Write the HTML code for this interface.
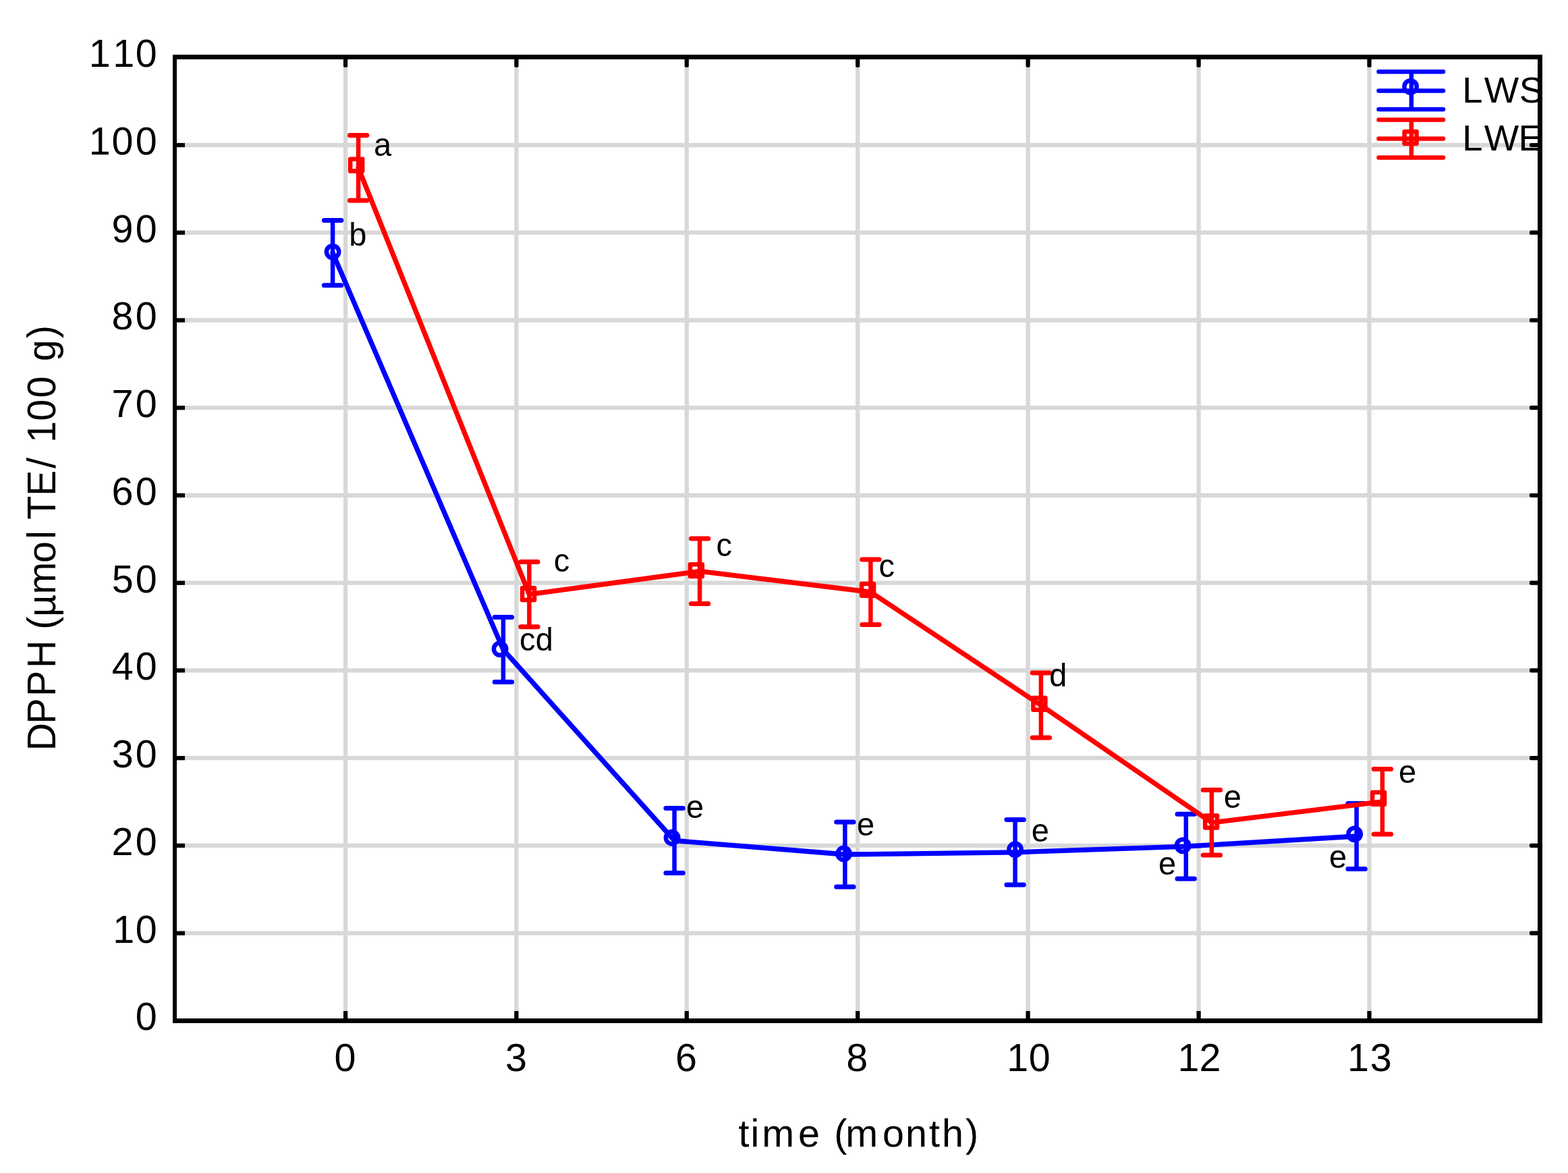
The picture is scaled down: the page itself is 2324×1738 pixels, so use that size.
<!DOCTYPE html>
<html lang="en"><head><meta charset="utf-8"><title>DPPH chart</title>
<style>html,body{margin:0;padding:0;background:#fff}body{width:2324px;height:1738px;overflow:hidden}svg{display:block}text{font-family:"Liberation Sans",sans-serif;fill:#000;white-space:pre}</style></head><body>
<svg width="2324" height="1738" viewBox="0 0 2324 1738" role="img" aria-label="DPPH versus storage time for LWS and LWE">
<rect width="2324" height="1738" fill="#fff"/>
<defs><clipPath id="pc"><rect x="262" y="87.9" width="2017" height="1421.1"/></clipPath></defs>
<g stroke="#d8d8d8" stroke-width="6.3" fill="none">
<line x1="259.4" x2="2282.6" y1="1382.7" y2="1382.7"/>
<line x1="259.4" x2="2282.6" y1="1252.9" y2="1252.9"/>
<line x1="259.4" x2="2282.6" y1="1123.2" y2="1123.2"/>
<line x1="259.4" x2="2282.6" y1="993.4" y2="993.4"/>
<line x1="259.4" x2="2282.6" y1="863.7" y2="863.7"/>
<line x1="259.4" x2="2282.6" y1="734.0" y2="734.0"/>
<line x1="259.4" x2="2282.6" y1="604.2" y2="604.2"/>
<line x1="259.4" x2="2282.6" y1="474.5" y2="474.5"/>
<line x1="259.4" x2="2282.6" y1="344.7" y2="344.7"/>
<line x1="259.4" x2="2282.6" y1="215.0" y2="215.0"/>
<line y1="84.8" y2="1512.7" x1="512.1" x2="512.1"/>
<line y1="84.8" y2="1512.7" x1="765.4" x2="765.4"/>
<line y1="84.8" y2="1512.7" x1="1017.8" x2="1017.8"/>
<line y1="84.8" y2="1512.7" x1="1271.2" x2="1271.2"/>
<line y1="84.8" y2="1512.7" x1="1523.6" x2="1523.6"/>
<line y1="84.8" y2="1512.7" x1="1776.6" x2="1776.6"/>
<line y1="84.8" y2="1512.7" x1="2029.5" x2="2029.5"/>
</g>
<g stroke="#0000ff" stroke-width="6.5" fill="none" stroke-linecap="round" stroke-linejoin="round">
<polyline stroke-width="7.3" points="493.1,374.7 745.9,962.6 999.6,1245.5 1252.4,1266.0 1504.6,1262.8 1757.8,1254.1 2010.6,1239.0"/>
<path d="M493.1 326.6V422.8"/><path stroke-width="7.0" d="M480.4 326.6h25.4M480.4 422.8h25.4"/>
<circle cx="493.1" cy="373.1" r="9.2"/>
<path d="M745.9 914.6V1010.6"/><path stroke-width="7.0" d="M733.2 914.6h25.4M733.2 1010.6h25.4"/>
<circle cx="741.1" cy="961.6" r="9.2"/>
<path d="M999.6 1197.5V1293.4"/><path stroke-width="7.0" d="M986.9 1197.5h25.4M986.9 1293.4h25.4"/>
<circle cx="996.1" cy="1241.2" r="9.2"/>
<path d="M1252.4 1218.1V1313.9"/><path stroke-width="7.0" d="M1239.7 1218.1h25.4M1239.7 1313.9h25.4"/>
<circle cx="1250.6" cy="1265.0" r="9.2"/>
<path d="M1504.6 1214.6V1310.9"/><path stroke-width="7.0" d="M1491.9 1214.6h25.4M1491.9 1310.9h25.4"/>
<circle cx="1504.6" cy="1258.8" r="9.2"/>
<path d="M1757.8 1206.2V1301.9"/><path stroke-width="7.0" d="M1745.0 1206.2h25.4M1745.0 1301.9h25.4"/>
<circle cx="1753.1" cy="1252.9" r="9.2"/>
<path d="M2010.6 1190.4V1287.5"/><path stroke-width="7.0" d="M1997.9 1190.4h25.4M1997.9 1287.5h25.4"/>
<circle cx="2007.6" cy="1235.9" r="9.2"/>
</g>
<g stroke="#ff0000" stroke-width="6.5" fill="none" stroke-linecap="round" stroke-linejoin="round">
<polyline stroke-width="7.3" points="531.1,248.6 784.4,880.6 1037.1,846.4 1290.4,877.2 1542.9,1045.0 1795.9,1218.8 2048.9,1187.8"/>
<path d="M531.1 200.4V296.9"/><path stroke-width="7.0" d="M518.4 200.4h25.4M518.4 296.9h25.4"/>
<rect x="519.2" y="235.8" width="18" height="17.8"/>
<path d="M784.4 832.4V928.8"/><path stroke-width="7.0" d="M771.7 832.4h25.4M771.7 928.8h25.4"/>
<rect x="774.1" y="871.2" width="18" height="17.8"/>
<path d="M1037.1 798.1V894.6"/><path stroke-width="7.0" d="M1024.4 798.1h25.4M1024.4 894.6h25.4"/>
<rect x="1022.9" y="836.2" width="18" height="17.8"/>
<path d="M1290.4 829.1V925.4"/><path stroke-width="7.0" d="M1277.7 829.1h25.4M1277.7 925.4h25.4"/>
<rect x="1277.1" y="864.9" width="18" height="17.8"/>
<path d="M1542.9 996.9V1093.1"/><path stroke-width="7.0" d="M1530.2 996.9h25.4M1530.2 1093.1h25.4"/>
<rect x="1531.4" y="1034.0" width="18" height="17.8"/>
<path d="M1795.9 1170.6V1266.9"/><path stroke-width="7.0" d="M1783.2 1170.6h25.4M1783.2 1266.9h25.4"/>
<rect x="1786.1" y="1208.6" width="18" height="17.8"/>
<path d="M2048.9 1139.6V1235.9"/><path stroke-width="7.0" d="M2036.2 1139.6h25.4M2036.2 1235.9h25.4"/>
<rect x="2034.1" y="1174.0" width="18" height="17.8"/>
</g>
<g clip-path="url(#pc)">
<g stroke="#0000ff" stroke-width="6.5" fill="none" stroke-linecap="round"><path d="M2043.5 106.25H2139M2043.5 134.4H2139M2043.5 162.1H2139M2091.9 106.25V162.1"/><circle cx="2090.6" cy="128.4" r="9.2"/></g>
<g stroke="#ff0000" stroke-width="6.5" fill="none" stroke-linecap="round"><path d="M2043.5 177.5H2139M2043.5 205.4H2139M2043.5 233.4H2139M2091.9 177.5V233.4"/><rect x="2081.6" y="195.0" width="18" height="17.8" stroke-linejoin="round"/></g>
<text x="2167.3 2199.75 2251.8" y="152.1" font-size="54.5">LWS</text>
<text x="2167.3 2199.75 2250.5" y="223.1" font-size="54.5">LWE</text>
</g>
<g fill="#000">
<rect x="256.0" y="81.0" width="2030.0" height="6.9"/>
<rect x="256.0" y="1509.0" width="2030.0" height="6.9"/>
<rect x="256.0" y="81.0" width="6.0" height="1434.9"/>
<rect x="2279.0" y="81.0" width="7.0" height="1434.9"/>
<rect x="261.0" y="1379.6" width="13.0" height="6.2"/>
<rect x="2266.9" y="1379.6" width="15.1" height="6.2" rx="2.4"/>
<rect x="261.0" y="1249.8" width="13.0" height="6.2"/>
<rect x="2266.9" y="1249.8" width="15.1" height="6.2" rx="2.4"/>
<rect x="261.0" y="1120.1" width="13.0" height="6.2"/>
<rect x="2266.9" y="1120.1" width="15.1" height="6.2" rx="2.4"/>
<rect x="261.0" y="990.3" width="13.0" height="6.2"/>
<rect x="2266.9" y="990.3" width="15.1" height="6.2" rx="2.4"/>
<rect x="261.0" y="860.6" width="13.0" height="6.2"/>
<rect x="2266.9" y="860.6" width="15.1" height="6.2" rx="2.4"/>
<rect x="261.0" y="730.9" width="13.0" height="6.2"/>
<rect x="2266.9" y="730.9" width="15.1" height="6.2" rx="2.4"/>
<rect x="261.0" y="601.1" width="13.0" height="6.2"/>
<rect x="2266.9" y="601.1" width="15.1" height="6.2" rx="2.4"/>
<rect x="261.0" y="471.4" width="13.0" height="6.2"/>
<rect x="2266.9" y="471.4" width="15.1" height="6.2" rx="2.4"/>
<rect x="261.0" y="341.6" width="13.0" height="6.2"/>
<rect x="2266.9" y="341.6" width="15.1" height="6.2" rx="2.4"/>
<rect x="261.0" y="211.9" width="13.0" height="6.2"/>
<rect x="2266.9" y="211.9" width="15.1" height="6.2" rx="2.4"/>
<rect x="509.0" y="84.9" width="6.2" height="14.9" rx="2.0"/>
<rect x="509.0" y="1498.0" width="6.2" height="12.0"/>
<rect x="762.3" y="84.9" width="6.2" height="14.9" rx="2.0"/>
<rect x="762.3" y="1498.0" width="6.2" height="12.0"/>
<rect x="1014.7" y="84.9" width="6.2" height="14.9" rx="2.0"/>
<rect x="1014.7" y="1498.0" width="6.2" height="12.0"/>
<rect x="1268.1" y="84.9" width="6.2" height="14.9" rx="2.0"/>
<rect x="1268.1" y="1498.0" width="6.2" height="12.0"/>
<rect x="1520.5" y="84.9" width="6.2" height="14.9" rx="2.0"/>
<rect x="1520.5" y="1498.0" width="6.2" height="12.0"/>
<rect x="1773.5" y="84.9" width="6.2" height="14.9" rx="2.0"/>
<rect x="1773.5" y="1498.0" width="6.2" height="12.0"/>
<rect x="2026.4" y="84.9" width="6.2" height="14.9" rx="2.0"/>
<rect x="2026.4" y="1498.0" width="6.2" height="12.0"/>
</g>
<text x="200.7" y="1526.2" font-size="57.5">0</text>
<text x="167.3 200.7" y="1396.5" font-size="57.5">10</text>
<text x="165.6 200.7" y="1266.7" font-size="57.5">20</text>
<text x="165.8 200.7" y="1137.0" font-size="57.5">30</text>
<text x="165.8 200.7" y="1007.2" font-size="57.5">40</text>
<text x="165.7 200.7" y="877.5" font-size="57.5">50</text>
<text x="165.4 200.7" y="747.8" font-size="57.5">60</text>
<text x="165.6 200.7" y="618.0" font-size="57.5">70</text>
<text x="165.6 200.7" y="488.3" font-size="57.5">80</text>
<text x="165.6 200.7" y="358.5" font-size="57.5">90</text>
<text x="131.7 165.6 200.7" y="228.8" font-size="57.5">100</text>
<text x="131.7 167.3 200.7" y="99.1" font-size="57.5">110</text>
<text x="495.4" y="1586.9" font-size="57.5">0</text>
<text x="748.9" y="1586.9" font-size="57.5">3</text>
<text x="1000.9" y="1586.9" font-size="57.5">6</text>
<text x="1254.2" y="1586.9" font-size="57.5">8</text>
<text x="1492.3 1524.7" y="1586.9" font-size="57.5">10</text>
<text x="1745.4 1777.5" y="1586.9" font-size="57.5">12</text>
<text x="1997.0 2030.7" y="1586.9" font-size="57.5">13</text>
<text x="1094.5 1112.5 1129.2 1182.9 1215.1 1236.3 1253.2 1308.1 1342.1 1377.1 1396.1 1431.1" y="1699.3" font-size="57.5">time (month)</text>
<text transform="translate(82 798.0) rotate(-90) scale(1 1.02)" x="-314.4 -274.8 -233.9 -192.1 -150.6 -134.8 -116.1 -82.5 -35.9 -1.0 11.8 28.2 62.9 104.1 120.1 142.0 174.2 208.5 240.4 262.8 297.1" y="0" font-size="57.5">DPPH (µmol TE/ 100 g)</text>
<text transform="translate(0 231.25) scale(1 1.04)" x="553.9" y="0" font-size="47">a</text>
<text transform="translate(0 364.25) scale(1 1.04)" x="517.3" y="0" font-size="47">b</text>
<text transform="translate(0 846.95) scale(1 1.04)" x="820.8" y="0" font-size="47">c</text>
<text transform="translate(0 964.15) scale(1 1.04)" x="770.0 793.7" y="0" font-size="47">cd</text>
<text transform="translate(0 823.75) scale(1 1.04)" x="1061.4" y="0" font-size="47">c</text>
<text transform="translate(0 855.00) scale(1 1.04)" x="1302.6" y="0" font-size="47">c</text>
<text transform="translate(0 1017.00) scale(1 1.04)" x="1555.2" y="0" font-size="47">d</text>
<text transform="translate(0 1211.75) scale(1 1.04)" x="1017.0" y="0" font-size="47">e</text>
<text transform="translate(0 1237.95) scale(1 1.04)" x="1270.1" y="0" font-size="47">e</text>
<text transform="translate(0 1246.75) scale(1 1.04)" x="1528.7" y="0" font-size="47">e</text>
<text transform="translate(0 1295.75) scale(1 1.04)" x="1717.0" y="0" font-size="47">e</text>
<text transform="translate(0 1286.25) scale(1 1.04)" x="1969.9" y="0" font-size="47">e</text>
<text transform="translate(0 1196.65) scale(1 1.04)" x="1813.8" y="0" font-size="47">e</text>
<text transform="translate(0 1159.50) scale(1 1.04)" x="2073.0" y="0" font-size="47">e</text>
</svg></body></html>
